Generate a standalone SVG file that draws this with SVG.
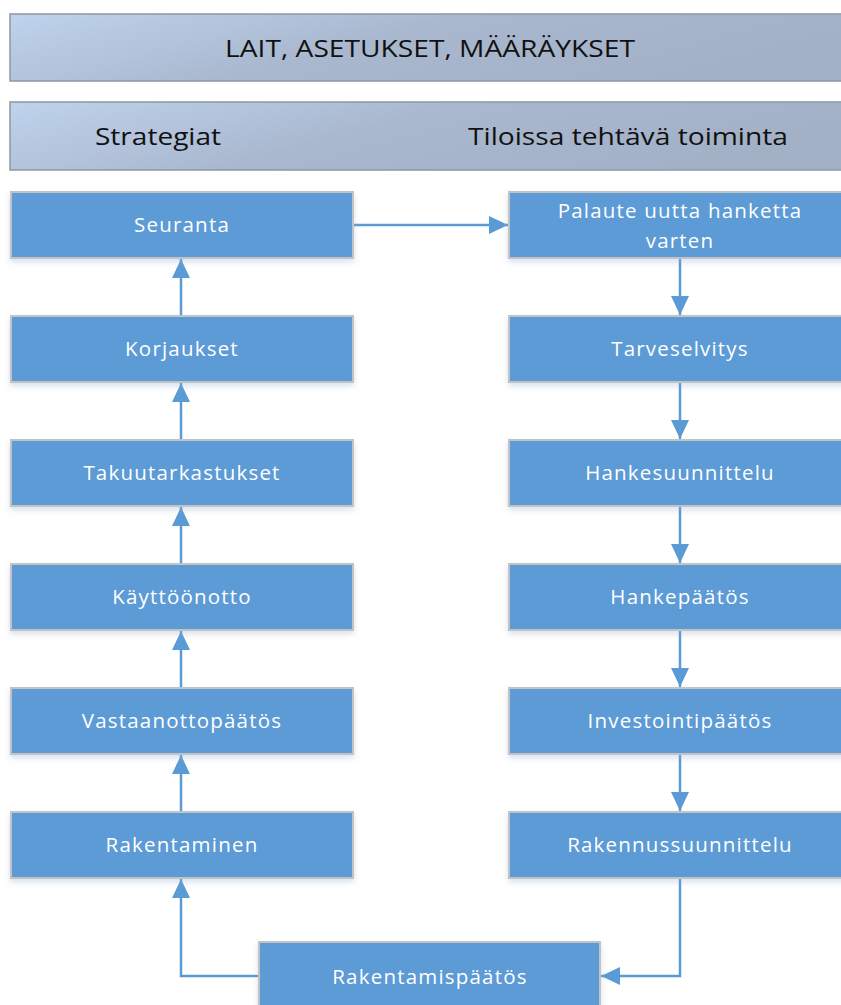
<svg xmlns="http://www.w3.org/2000/svg" width="841" height="1005" viewBox="0 0 841 1005">
<style>
.hdr{stroke:#8e96a3;stroke-width:1.5;fill:url(#hg)}
.htxt{font-family:"Open Sans","Liberation Sans",sans-serif;font-size:24px;fill:#111}
.box{fill:#5b9bd5;stroke:#c3c3c3;stroke-width:2;filter:url(#sh)}
.btxt{font-family:"Open Sans","Liberation Sans",sans-serif;font-size:20.5px;fill:#fff;text-anchor:middle;letter-spacing:1.2px}
.con{fill:none;stroke:#5b9bd5;stroke-width:2.5;marker-end:url(#ah2)}
</style>
<defs>
<linearGradient id="hg" x1="0" y1="0" x2="1" y2="0.3">
<stop offset="0" stop-color="#bfd3ec"/>
<stop offset="0.5" stop-color="#a9b8cf"/>
<stop offset="1" stop-color="#a3b1c7"/>
</linearGradient>
<filter id="sh" x="-5%" y="-10%" width="110%" height="130%">
<feDropShadow dx="0" dy="3" stdDeviation="3" flood-color="#8aa8c8" flood-opacity="0.35"/>
</filter>
<marker id="ah2" markerWidth="20" markerHeight="18" refX="19" refY="9" orient="auto" markerUnits="userSpaceOnUse">
<path d="M0,0 L19,9 L0,18 Z" fill="#5b9bd5"/>
</marker>
</defs>
<rect width="841" height="1005" fill="#fff"/>
<g id="header-laws">
<rect class="hdr" x="10" y="14" width="840" height="67"/>
<text class="htxt" x="430" y="57" text-anchor="middle" textLength="410" lengthAdjust="spacingAndGlyphs">LAIT, ASETUKSET, MÄÄRÄYKSET</text>
</g>
<g id="header-columns">
<rect class="hdr" x="10" y="102" width="840" height="68"/>
<text class="htxt" x="95" y="145" textLength="126" lengthAdjust="spacingAndGlyphs">Strategiat</text>
<text class="htxt" x="468" y="145" textLength="320" lengthAdjust="spacingAndGlyphs">Tiloissa tehtävä toiminta</text>
</g>
<g id="connectors">
<line class="con" x1="181" y1="316" x2="181" y2="259"/>
<line class="con" x1="181" y1="440" x2="181" y2="383"/>
<line class="con" x1="181" y1="564" x2="181" y2="507"/>
<line class="con" x1="181" y1="688" x2="181" y2="631"/>
<line class="con" x1="181" y1="812" x2="181" y2="755"/>
<line class="con" x1="353" y1="225" x2="508" y2="225"/>
<line class="con" x1="680" y1="258" x2="680" y2="315"/>
<line class="con" x1="680" y1="382" x2="680" y2="439"/>
<line class="con" x1="680" y1="506" x2="680" y2="563"/>
<line class="con" x1="680" y1="630" x2="680" y2="687"/>
<line class="con" x1="680" y1="754" x2="680" y2="811"/>
<polyline class="con" points="259,976 181,976 181,879"/>
<polyline class="con" points="680,878 680,976 601,976"/>
</g>
<g id="seuranta"><rect class="box" x="11" y="192" width="342" height="66"/><text class="btxt" x="182" y="232">Seuranta</text></g>
<g id="korjaukset"><rect class="box" x="11" y="316" width="342" height="66"/><text class="btxt" x="182" y="356">Korjaukset</text></g>
<g id="takuutarkastukset"><rect class="box" x="11" y="440" width="342" height="66"/><text class="btxt" x="182" y="480">Takuutarkastukset</text></g>
<g id="kayttoonotto"><rect class="box" x="11" y="564" width="342" height="66"/><text class="btxt" x="182" y="604">Käyttöönotto</text></g>
<g id="vastaanottopaatos"><rect class="box" x="11" y="688" width="342" height="66"/><text class="btxt" x="182" y="728">Vastaanottopäätös</text></g>
<g id="rakentaminen"><rect class="box" x="11" y="812" width="342" height="66"/><text class="btxt" x="182" y="852">Rakentaminen</text></g>
<g id="palaute"><rect class="box" x="509" y="192" width="342" height="66"/><text class="btxt" x="680" y="218">Palaute uutta hanketta</text><text class="btxt" x="680" y="248">varten</text></g>
<g id="tarveselvitys"><rect class="box" x="509" y="316" width="342" height="66"/><text class="btxt" x="680" y="356">Tarveselvitys</text></g>
<g id="hankesuunnittelu"><rect class="box" x="509" y="440" width="342" height="66"/><text class="btxt" x="680" y="480">Hankesuunnittelu</text></g>
<g id="hankepaatos"><rect class="box" x="509" y="564" width="342" height="66"/><text class="btxt" x="680" y="604">Hankepäätös</text></g>
<g id="investointipaatos"><rect class="box" x="509" y="688" width="342" height="66"/><text class="btxt" x="680" y="728">Investointipäätös</text></g>
<g id="rakennussuunnittelu"><rect class="box" x="509" y="812" width="342" height="66"/><text class="btxt" x="680" y="852">Rakennussuunnittelu</text></g>
<g id="rakentamispaatos"><rect class="box" x="259" y="942" width="341" height="70"/><text class="btxt" x="430" y="984">Rakentamispäätös</text></g>
</svg>
